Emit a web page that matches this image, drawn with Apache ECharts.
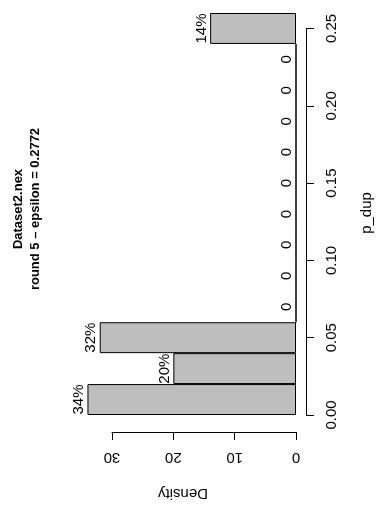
<!DOCTYPE html>
<html>
<head>
<meta charset="utf-8">
<script src="https://cdn.jsdelivr.net/npm/echarts@6/dist/echarts.min.js"></script>
<style>
html,body{margin:0;padding:0;background:#fff;}
#c{width:379px;height:515px;}
</style>
</head>
<body>
<div id="c"></div>
<script>
// bins of p_dup (width 0.02), lower edges
var binStarts = [0.00, 0.02, 0.04, 0.06, 0.08, 0.10, 0.12, 0.14, 0.16, 0.18, 0.20, 0.22, 0.24];
// Density values (bar heights)
var densityValues = [34, 20, 32, 0, 0, 0, 0, 0, 0, 0, 0, 0, 14];
// Percent labels over bars
var percentLabels = ['34%', '20%', '32%', '0', '0', '0', '0', '0', '0', '0', '0', '0', '14%'];
var pTicks = [0.00, 0.05, 0.10, 0.15, 0.20, 0.25];
var densityTicks = [0, 10, 20, 30];
var titleLine1 = 'Dataset2.nex';
var titleLine2 = 'round 5 \u2013 epsilon = 0.2772';
var xTitle = 'p_dup';
var yTitle = 'Density';

var FONT = 'Liberation Sans, Arial, Helvetica, sans-serif';
var chart = echarts.init(document.getElementById('c'), null, {renderer: 'canvas'});
var option = {
  animation: false,
  backgroundColor: '#ffffff',
  textStyle: {fontFamily: FONT},
  grid: [
    {left: 112, right: 83, top: 13, bottom: 100, containLabel: false},
    {left: 112, right: 83, top: 28.5, bottom: 100, containLabel: false}
  ],
  xAxis: [
    {
      gridIndex: 0, type: 'value', inverse: true,
      min: densityTicks[0], max: densityTicks[densityTicks.length - 1], interval: 10,
      position: 'bottom', offset: 17,
      axisLine: {show: true, onZero: false, lineStyle: {color: '#000', width: 1}},
      axisTick: {show: true, length: 8, inside: false, lineStyle: {color: '#000', width: 1}},
      axisLabel: {show: true, rotate: 180, margin: 18, color: '#000', fontSize: 15, fontFamily: FONT},
      splitLine: {show: false}
    },
    {gridIndex: 1, type: 'value', show: false, min: 0, max: 30}
  ],
  yAxis: [
    {
      gridIndex: 0, type: 'category', data: binStarts.map(String), show: false,
      boundaryGap: true
    },
    {
      gridIndex: 1, type: 'value', min: pTicks[0], max: pTicks[pTicks.length - 1], interval: 0.05,
      position: 'right', offset: 10,
      axisLine: {show: true, onZero: false, lineStyle: {color: '#000', width: 1}},
      axisTick: {show: true, length: 8, inside: false, lineStyle: {color: '#000', width: 1}},
      axisLabel: {show: true, rotate: 90, margin: 18, color: '#000', fontSize: 15, fontFamily: FONT,
        formatter: function (v) { return v.toFixed(2); }},
      splitLine: {show: false}
    }
  ],
  series: [
    {
      type: 'bar', xAxisIndex: 0, yAxisIndex: 0,
      data: densityValues,
      barCategoryGap: '0%',
      clip: false,
      itemStyle: {color: '#bebebe', borderColor: '#000', borderWidth: 1},
      label: {
        show: true, position: 'left', rotate: 90, distance: 1,
        align: 'center', verticalAlign: 'bottom',
        color: '#000', fontSize: 15, fontFamily: FONT,
        formatter: function (p) { return percentLabels[p.dataIndex]; }
      }
    }
  ],
  graphic: [
    {type: 'text', x: 18, y: 209, rotation: Math.PI / 2,
      style: {text: titleLine1, fill: '#000', font: 'bold 13px ' + FONT, align: 'center', verticalAlign: 'middle'}},
    {type: 'text', x: 35, y: 209, rotation: Math.PI / 2,
      style: {text: titleLine2, fill: '#000', font: 'bold 13px ' + FONT, align: 'center', verticalAlign: 'middle'}},
    {type: 'text', x: 183, y: 493, rotation: Math.PI,
      style: {text: yTitle, fill: '#000', font: '15px ' + FONT, align: 'center', verticalAlign: 'middle'}},
    {type: 'text', x: 367, y: 213, rotation: Math.PI / 2,
      style: {text: xTitle, fill: '#000', font: '15px ' + FONT, align: 'center', verticalAlign: 'middle'}}
  ]
};
chart.setOption(option);
</script>
</body>
</html>
